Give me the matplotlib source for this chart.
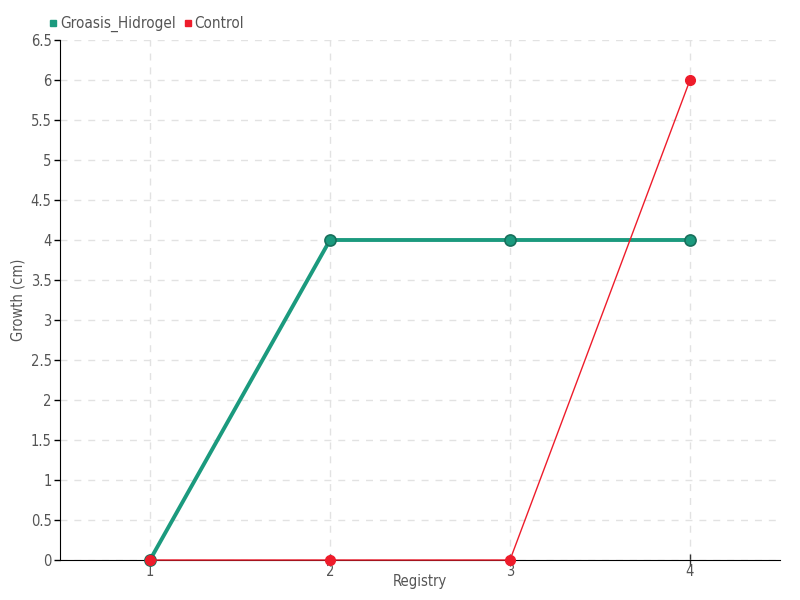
import numpy as np
import matplotlib.pyplot as plt
from matplotlib.lines import Line2D

plt.rcParams['font.family'] = ['DejaVu Sans']
plt.rcParams['font.stretch'] = 'condensed'

registry = [1, 2, 3, 4]
hidrogel = [0, 4, 4, 4]
control = [0, 0, 0, 6]
yticks = [0, 0.5, 1, 1.5, 2, 2.5, 3, 3.5, 4, 4.5, 5, 5.5, 6, 6.5]
ylabels = ['0', '0.5', '1', '1.5', '2', '2.5', '3', '3.5', '4', '4.5', '5', '5.5', '6', '6.5']

green = '#1b9a7e'
red = '#ee1c2b'
txt = '#555555'

fig = plt.figure(figsize=(8, 6), dpi=100)
ax = fig.add_axes([60/800, 40/600, 720/800, 520/600])

ax.plot(registry, hidrogel, color=green, linewidth=2.8, marker='o', markersize=8,
        markerfacecolor=green, markeredgecolor='#17705c', markeredgewidth=1.2,
        zorder=3, clip_on=False)
ax.plot(registry, control, color=red, linewidth=1.0, marker='o', markersize=7,
        markerfacecolor=red, markeredgecolor=red, zorder=4, clip_on=False)

ax.set_xlim(0.5, 4.5)
ax.set_ylim(0, 6.5)
ax.set_xticks(registry)
ax.set_yticks(yticks)
ax.set_yticklabels(ylabels)
ax.tick_params(axis='both', labelsize=10.5, colors=txt, length=4, width=1, pad=2)
ax.tick_params(axis='x', direction='inout', length=8, color='#333333', pad=-1)
ax.tick_params(axis='y', color='black')
ax.grid(True, linestyle=(0, (5, 5)), color='#e2e2e2', linewidth=1)
ax.set_axisbelow(True)
for s in ['top', 'right']:
    ax.spines[s].set_visible(False)
ax.spines['left'].set_color('black')
ax.spines['bottom'].set_color('black')

ax.set_xlabel('Registry', fontsize=10.5, color=txt, labelpad=-4)
ax.set_ylabel('Growth (cm)', fontsize=10.5, color=txt, labelpad=4)

handles = [Line2D([], [], linestyle='none', marker='s', markersize=5, color=green),
           Line2D([], [], linestyle='none', marker='s', markersize=5, color=red)]
ax.legend(handles, ['Groasis_Hidrogel', 'Control'], loc='lower left',
          bbox_to_anchor=(-0.025, 1.0), ncol=2, frameon=False, fontsize=11,
          handlelength=0.5, handletextpad=0.2, columnspacing=0.5, labelcolor=txt,
          borderpad=0.0)

fig.savefig('out.png', dpi=100)
